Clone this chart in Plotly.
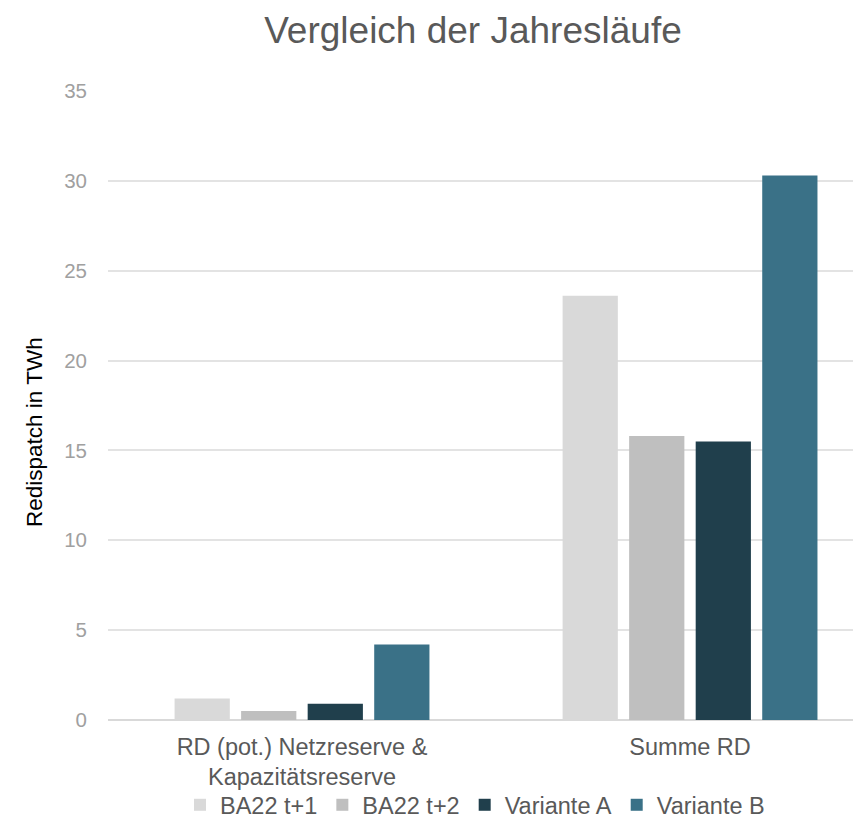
import plotly.graph_objects as go

categories = ["RD (pot.) Netzreserve &<br>Kapazitätsreserve", "Summe RD"]
series_names = ["BA22 t+1", "BA22 t+2", "Variante A", "Variante B"]
series_values = [
    [1.2, 23.6],
    [0.5, 15.8],
    [0.9, 15.5],
    [4.2, 30.3],
]
series_colors = ["#d9d9d9", "#bfbfbf", "#203f4c", "#3a7187"]
y_ticks = [0, 5, 10, 15, 20, 25, 30, 35]

# die Seite hat 8px Rand, daher Figur etwas kleiner
W, H = 845, 819
L, T, B = 100, 83, 107
PW, PH = W - L, H - T - B

fig = go.Figure()
for name, vals, col in zip(series_names, series_values, series_colors):
    fig.add_trace(
        go.Bar(
            x=categories,
            y=vals,
            name=name,
            marker=dict(color=col, line=dict(width=0)),
        )
    )

fig.update_layout(
    width=W,
    height=H,
    barmode="group",
    bargap=0.314,
    bargroupgap=0.17,
    plot_bgcolor="white",
    paper_bgcolor="white",
    font=dict(family="Liberation Sans, Arial, sans-serif", color="#595959"),
    title=dict(
        text="Vergleich der Jahresläufe",
        x=465 / W,
        xanchor="center",
        y=1 - 22 / H,
        yanchor="middle",
        font=dict(size=37, color="#595959"),
    ),
    margin=dict(l=L, r=0, t=T, b=B, autoexpand=False),
    xaxis=dict(
        range=[-0.5, 1.42],
        showgrid=False,
        showline=False,
        tickfont=dict(size=23.5, color="#595959"),
        ticks="",
        ticklabelstandoff=10,
    ),
    yaxis=dict(
        range=[0, 35],
        tickvals=y_ticks,
        showgrid=True,
        gridcolor="#e3e3e3",
        gridwidth=1.5,
        zeroline=True,
        zerolinecolor="#d9d9d9",
        zerolinewidth=2,
        tickfont=dict(size=20.5, color="#a0a0a0"),
        ticklabelstandoff=20,
    ),
    annotations=[
        dict(
            text="Redispatch in TWh",
            xref="paper",
            yref="paper",
            x=-73 / PW,
            y=(PH - 424 + T) / PH,
            xanchor="center",
            yanchor="middle",
            textangle=-90,
            showarrow=False,
            font=dict(size=22.5, color="#000000"),
        )
    ],
    legend=dict(
        orientation="h",
        x=72 / PW,
        xanchor="left",
        y=-B / PH,
        yanchor="bottom",
        bgcolor="rgba(0,0,0,0)",
        font=dict(size=23.5, color="#595959"),
        itemwidth=30,
        traceorder="normal",
    ),
)

fig.write_html("out.html")
